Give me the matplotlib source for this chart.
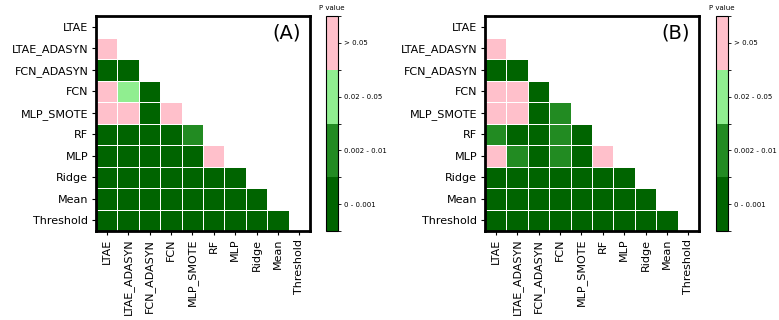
import numpy as np
import matplotlib
matplotlib.use("Agg")
import matplotlib.pyplot as plt
from matplotlib.colors import ListedColormap, BoundaryNorm

models = ["LTAE", "LTAE_ADASYN", "FCN_ADASYN", "FCN", "MLP_SMOTE",
          "RF", "MLP", "Ridge", "Mean", "Threshold"]
level_labels = ["0 - 0.001", "0.002 - 0.01", "0.02 - 0.05", "> 0.05"]
level_colors = ["#006400", "#228B22", "#90EE90", "#FFC0CB"]

# lower-triangle significance levels (0: 0-0.001, 1: 0.002-0.01, 2: 0.02-0.05, 3: >0.05)
rows_A = [
    [],
    [3],
    [0, 0],
    [3, 2, 0],
    [3, 3, 0, 3],
    [0, 0, 0, 0, 1],
    [0, 0, 0, 0, 0, 3],
    [0, 0, 0, 0, 0, 0, 0],
    [0, 0, 0, 0, 0, 0, 0, 0],
    [0, 0, 0, 0, 0, 0, 0, 0, 0],
]
rows_B = [
    [],
    [3],
    [0, 0],
    [3, 3, 0],
    [3, 3, 0, 1],
    [1, 0, 0, 1, 0],
    [3, 1, 0, 1, 0, 3],
    [0, 0, 0, 0, 0, 0, 0],
    [0, 0, 0, 0, 0, 0, 0, 0],
    [0, 0, 0, 0, 0, 0, 0, 0, 0],
]
panel_titles = ["(A)", "(B)"]


def to_matrix(rows):
    n = len(rows)
    m = np.full((n, n), np.nan)
    for i, r in enumerate(rows):
        for j, v in enumerate(r):
            m[i, j] = v
    return np.ma.masked_invalid(m)


cmap = ListedColormap(level_colors)
norm = BoundaryNorm([-0.5, 0.5, 1.5, 2.5, 3.5], cmap.N)

fig = plt.figure(figsize=(7.79, 3.2), dpi=100)
W, H = 779, 320
ax_boxes = [(96, 310), (485, 699)]
cb_boxes = [(326, 338), (716, 728)]
top, bot = 16, 231

for k, rows in enumerate([rows_A, rows_B]):
    l, r = ax_boxes[k]
    ax = fig.add_axes([l / W, 1 - bot / H, (r - l) / W, (bot - top) / H])
    mat = to_matrix(rows)
    n = len(models)
    mesh = ax.pcolormesh(np.arange(n + 1), np.arange(n + 1), mat, cmap=cmap,
                         norm=norm, edgecolors="white", linewidth=0.6)
    ax.set_xlim(0, n)
    ax.set_ylim(n, 0)
    ax.set_xticks(np.arange(n) + 0.5)
    ax.set_yticks(np.arange(n) + 0.5)
    ax.set_xticklabels(models, rotation=90, fontsize=8)
    ax.set_yticklabels(models, fontsize=8)
    ax.tick_params(length=3, width=0.8, pad=2.5)
    for s in ax.spines.values():
        s.set_linewidth(2)
        s.set_color("black")
    ax.text(0.89, 0.92, panel_titles[k], transform=ax.transAxes,
            fontsize=14, ha="center", va="center")

    cl, cr = cb_boxes[k]
    cax = fig.add_axes([cl / W, 1 - bot / H, (cr - cl) / W, (bot - top) / H])
    cb = fig.colorbar(mesh, cax=cax, ticks=[0, 1, 2, 3])
    cb.set_ticklabels(level_labels)
    cb.ax.tick_params(labelsize=5, length=2.5, width=0.6, pad=2)
    cb.outline.set_linewidth(0.8)
    cax.set_title("P value", fontsize=5, pad=4)

fig.savefig("out.png", dpi=100)
